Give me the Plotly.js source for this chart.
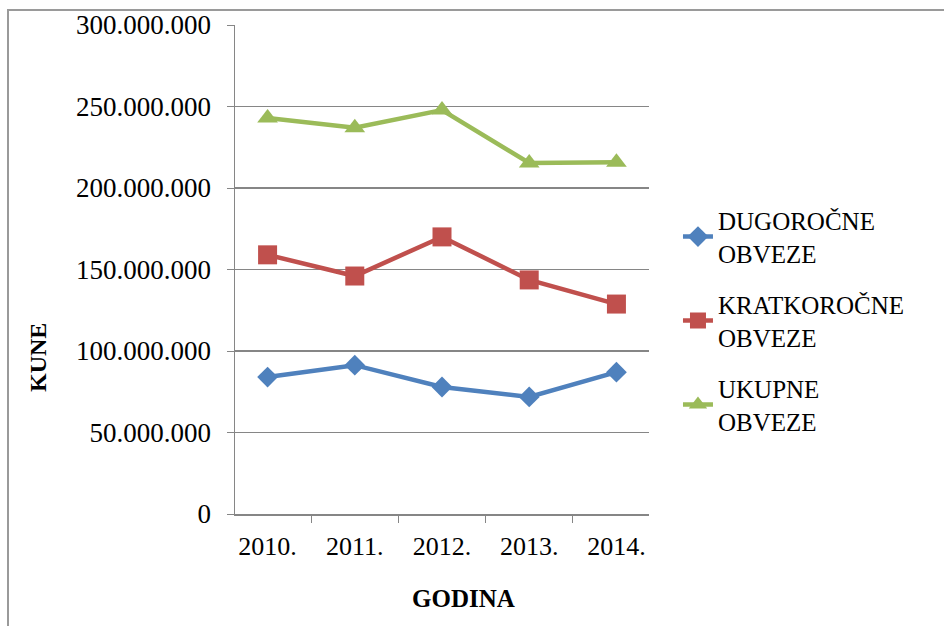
<!DOCTYPE html>
<html>
<head>
<meta charset="utf-8">
<script src="https://cdn.plot.ly/plotly-3.0.1.min.js"></script>
<style>
  html, body { margin: 0; padding: 0; background: #fff; }
  #wrap { position: relative; width: 944px; height: 626px; overflow: hidden; }
  #chart { position: absolute; left: 0; top: 0; width: 944px; height: 626px; }
  #frame { position: absolute; left: 7px; top: 9px; width: 1000px; height: 700px;
           border-left: 2px solid #9a9a9a; border-top: 2px solid #9a9a9a; pointer-events: none; }
</style>
</head>
<body>
<div id="wrap">
  <div id="chart"></div>
  <div id="frame"></div>
</div>
<script>
const years = ["2010.", "2011.", "2012.", "2013.", "2014."];
const dugorocne = [84000000, 91300000, 77900000, 71800000, 87000000];
const kratkorocne = [159000000, 146000000, 170000000, 143600000, 128800000];
const ukupne = [243000000, 237000000, 247800000, 215400000, 215800000];
const seriesNames = ["DUGOROČNE<br>OBVEZE", "KRATKOROČNE<br>OBVEZE", "UKUPNE<br>OBVEZE"];
const yTickVals = [0, 50000000, 100000000, 150000000, 200000000, 250000000, 300000000];

const serif = "'Liberation Serif', 'Times New Roman', serif";

const traces = [
  {x: years, y: dugorocne, name: seriesNames[0], legendgroup: "a", mode: "lines+markers",
   line: {color: "#4F81BD", width: 4.5}, marker: {symbol: "diamond", size: 16, color: "#4F81BD"}},
  {x: years, y: kratkorocne, name: seriesNames[1], legendgroup: "b", mode: "lines+markers",
   line: {color: "#C0504D", width: 4.5}, marker: {symbol: "square", size: 19, color: "#C0504D"}},
  {x: years, y: ukupne, name: seriesNames[2], legendgroup: "c", mode: "lines+markers",
   line: {color: "#9BBB59", width: 4.5}, marker: {symbol: "triangle-up", size: 18, color: "#9BBB59"}}
];

const layout = {
  width: 944, height: 626,
  margin: {l: 235, r: 295, t: 25, b: 112},
  paper_bgcolor: "rgba(0,0,0,0)", plot_bgcolor: "#fff",
  separators: ",.",
  font: {family: serif, size: 25, color: "#000"},
  showlegend: true,
  legend: {x: 1.07, xanchor: "left", y: 0.647, yanchor: "top",
           font: {family: serif, size: 25, color: "#000"},
           traceorder: "grouped", tracegroupgap: 16, itemwidth: 30,
           bgcolor: "rgba(0,0,0,0)"},
  xaxis: {type: "category", tickson: "boundaries", ticks: "outside", ticklen: 7,
          tickcolor: "#868686", showline: true, linecolor: "#868686", linewidth: 1.5,
          showgrid: false, zeroline: false, ticklabelstandoff: 8,
          tickfont: {family: serif, size: 26, color: "#000"}},
  yaxis: {range: [0, 300000000], tickvals: yTickVals, tickformat: ",.0f",
          ticks: "outside", ticklen: 7, tickcolor: "#868686",
          showline: true, linecolor: "#868686", linewidth: 1.5,
          showgrid: true, gridcolor: "#868686", gridwidth: 1.5, zeroline: false,
          ticklabelstandoff: 10,
          tickfont: {family: serif, size: 27, color: "#000"}},
  annotations: [
    {text: "<b>KUNE</b>", xref: "paper", yref: "paper", x: -0.476, y: 0.321,
     xanchor: "center", yanchor: "middle",
     textangle: -90, showarrow: false, font: {family: serif, size: 24, color: "#000"}},
    {text: "<b>GODINA</b>", xref: "paper", yref: "paper", x: 0.551, y: -0.172,
     xanchor: "center", yanchor: "middle",
     showarrow: false, font: {family: serif, size: 25, color: "#000"}}
  ]
};

Plotly.newPlot("chart", traces, layout, {displayModeBar: false, staticPlot: true});
</script>
</body>
</html>
